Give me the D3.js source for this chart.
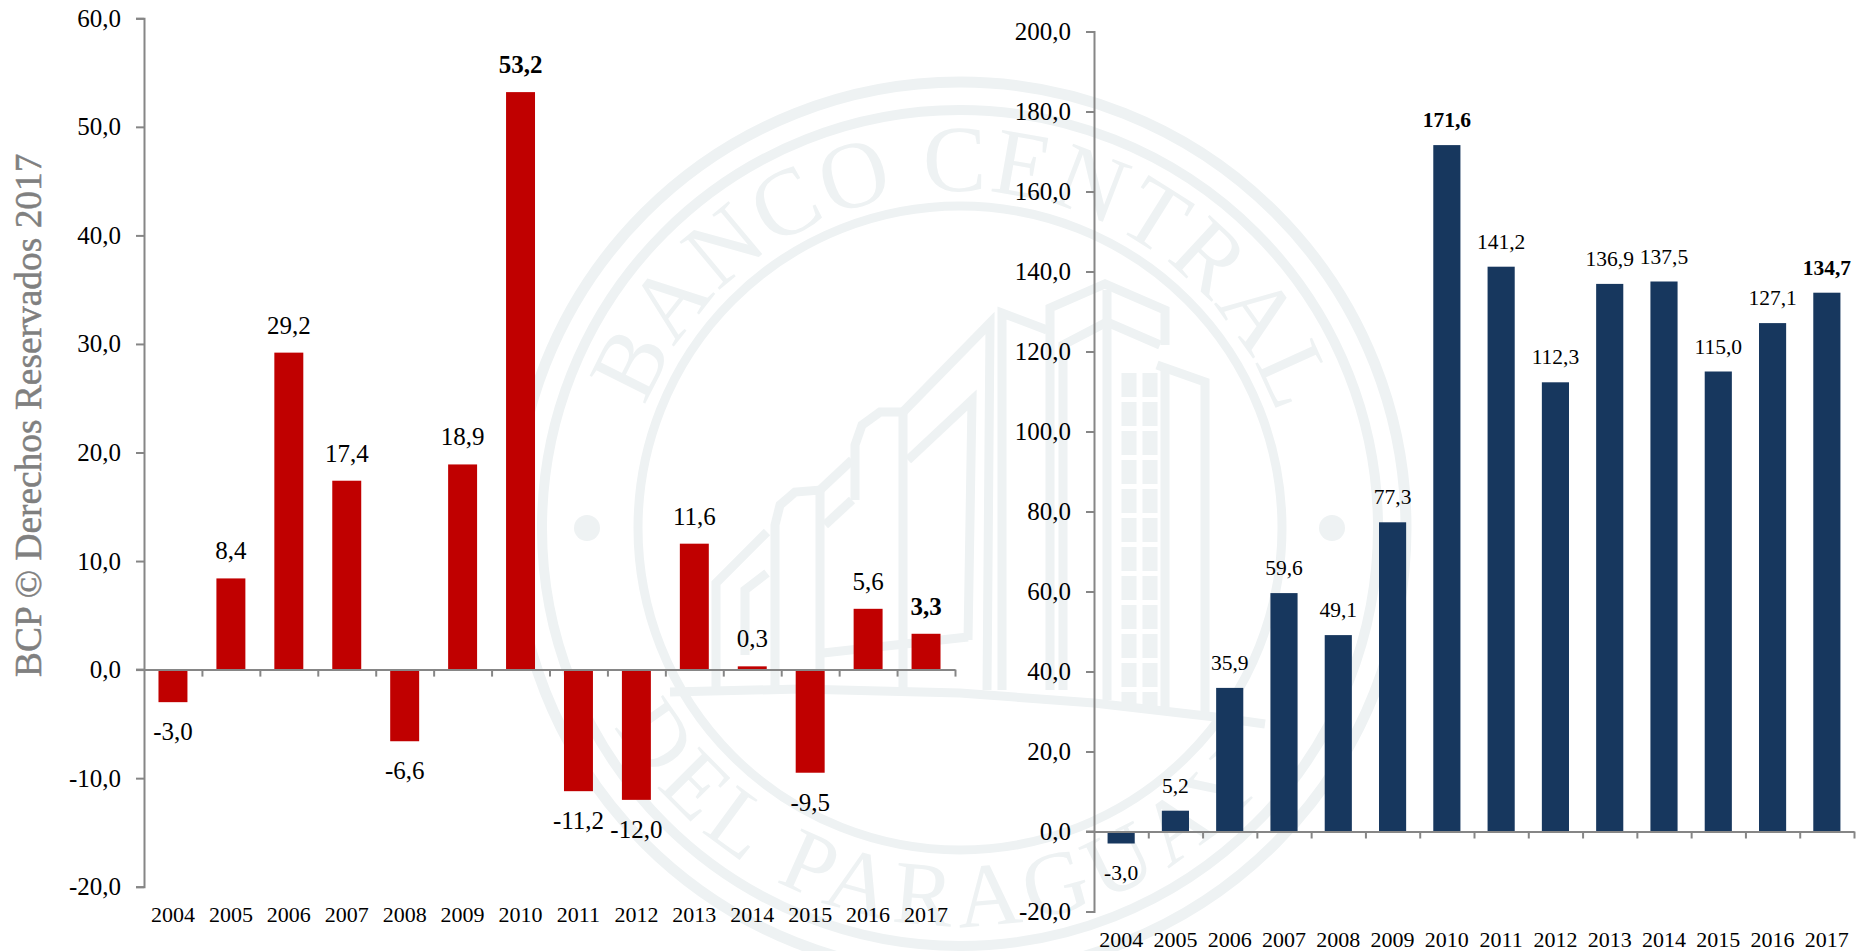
<!DOCTYPE html>
<html>
<head>
<meta charset="utf-8">
<script src="https://cdn.jsdelivr.net/npm/d3@7"></script>
<style>
body{margin:0;background:#fff;}
svg{display:block;}
text{font-family:"Liberation Serif",serif;fill:#000;}
</style>
</head>
<body>
<svg id="chart" width="1866" height="951"></svg>
<script>
var years=["2004","2005","2006","2007","2008","2009","2010","2011","2012","2013","2014","2015","2016","2017"];
var flowValues=[-3.0,8.4,29.2,17.4,-6.6,18.9,53.2,-11.2,-12.0,11.6,0.3,-9.5,5.6,3.3];
var stockValues=[-3.0,5.2,35.9,59.6,49.1,77.3,171.6,141.2,112.3,136.9,137.5,115.0,127.1,134.7];
var flowTicks=[-20,-10,0,10,20,30,40,50,60];
var stockTicks=[-20,0,20,40,60,80,100,120,140,160,180,200];
var boldYears=["2010","2017"];
var sideNote="BCP © Derechos Reservados 2017";
var sealTop="BANCO CENTRAL";
var sealBottom="DEL PARAGUAY";

var width=1866,height=951;
var svg=d3.select("#chart");
var fmt=d3.formatLocale({decimal:",",thousands:".",grouping:[3],currency:["",""],minus:"-"}).format(".1f");

//marca de agua
var sealColor="#eef2f3";
var cx=960,cy=528;
var seal=svg.append("g").attr("fill","none").attr("stroke",sealColor);
[[446,11],[418,10],[322,9]].forEach(function(r){
    seal.append("circle").attr("cx",cx).attr("cy",cy).attr("r",r[0]).attr("stroke-width",r[1]);
});
[587,1332].forEach(function(x){
    seal.append("circle").attr("cx",x).attr("cy",cy).attr("r",13).attr("fill",sealColor).attr("stroke","none");
});

var rad=Math.PI/180;
var topArc=d3.path();
topArc.arc(cx,cy,337,-170*rad,-10*rad+0.03,false);
var bottomArc=d3.path();
bottomArc.arc(cx,cy,398,172*rad,17*rad,true);
var defs=svg.append("defs");
defs.append("path").attr("id","sealTopArc").attr("d",topArc.toString());
defs.append("path").attr("id","sealBottomArc").attr("d",bottomArc.toString());
svg.append("text").attr("font-size",95).attr("letter-spacing",2).style("fill",sealColor)
    .append("textPath").attr("href","#sealTopArc").attr("startOffset","50%").attr("text-anchor","middle").text(sealTop);
svg.append("text").attr("font-size",90).attr("letter-spacing",8).style("fill",sealColor)
    .append("textPath").attr("href","#sealBottomArc").attr("startOffset","50%").attr("text-anchor","middle").text(sealBottom);

// edificios del logo
var sealLines=[
    [[670,692],[800,689],[960,693],[1094,703],[1215,717],[1265,724]],
    [[716,690],[716,583],[767,532]],
    [[745,655],[745,590],[767,573]],
    [[823,653],[968,637]],
    [[775,690],[775,525],[780,505],[795,492],[820,490],[820,690]],
    [[820,490],[852,460]],
    [[825,525],[852,500]],
    [[855,500],[855,445],[862,425],[880,412],[903,412],[903,690]],
    [[903,412],[990,323],[987,690]],
    [[908,460],[972,400],[968,640]],
    [[1002,690],[1002,313],[1047,330]],
    [[1050,690],[1050,308],[1105,284],[1165,310],[1165,345]],
    [[1063,690],[1063,345],[1107,322],[1160,345]],
    [[1107,290],[1107,700]],
    [[1157,365],[1205,382],[1205,715]],
    [[1165,370],[1165,712]]
];
var sealLine=d3.line().curve(d3.curveLinear);
seal.selectAll(".b").data(sealLines).enter().append("path")
    .attr("class","b")
    .attr("d",sealLine)
    .attr("stroke-width",9);
seal.selectAll(".w").data([1129,1150]).enter().append("line")
    .attr("class","w")
    .attr("x1",function(d){return d;}).attr("x2",function(d){return d;})
    .attr("y1",373).attr("y2",707)
    .attr("stroke-width",15)
    .attr("stroke-dasharray","24 5");

function drawPanel(opt){
    var xBand=d3.scaleBand().domain(years).range([opt.x0,opt.x1]).paddingInner(0.5).paddingOuter(0.25);
    var xLine=d3.scaleLinear().domain([0,years.length]).range([opt.x0,opt.x1]);
    var yScale=d3.scaleLinear().domain(opt.domain).range([opt.yBottom,opt.yTop]);

    var g=svg.append("g");
    g.selectAll("rect").data(opt.values).enter().append("rect")
        .attr("x",function(d,i){return xBand(years[i]);})
        .attr("width",xBand.bandwidth())
        .attr("y",function(d){return yScale(Math.max(d,0));})
        .attr("height",function(d){return Math.abs(yScale(d)-yScale(0));})
        .attr("fill",opt.color);

    var yAxis=d3.axisLeft(yScale).tickValues(opt.ticks).tickFormat(fmt).tickSize(8).tickPadding(15);
    var yG=g.append("g").attr("transform","translate("+opt.x0+",0)").call(yAxis);
    yG.selectAll("text").attr("font-size",25);

    var zeroAxis=d3.axisBottom(xLine).tickValues(d3.range(1,years.length+1)).tickFormat("").tickSize(7).tickSizeOuter(0);
    var zG=g.append("g").attr("transform","translate(0,"+yScale(0)+")").call(zeroAxis);
    g.append("line").attr("x1",opt.x0-8).attr("x2",opt.x0).attr("y1",yScale(0)).attr("y2",yScale(0));

    g.selectAll(".domain,.tick line,g>line").attr("stroke","#868686").attr("stroke-width",2);

    g.selectAll(".year").data(years).enter().append("text")
        .attr("class","year")
        .attr("x",function(d){return xBand(d)+xBand.bandwidth()/2;})
        .attr("y",opt.yearY)
        .attr("text-anchor","middle")
        .attr("font-size",22)
        .text(function(d){return d;});

    g.selectAll(".value").data(opt.values).enter().append("text")
        .attr("class","value")
        .attr("x",function(d,i){return xBand(years[i])+xBand.bandwidth()/2;})
        .attr("y",function(d){return d<0?yScale(d)+opt.gapBelow:yScale(d)-opt.gapAbove;})
        .attr("text-anchor","middle")
        .attr("font-size",function(d,i){return opt.labelSize;})
        .attr("font-weight",function(d,i){return boldYears.indexOf(years[i])>=0?"bold":"normal";})
        .text(function(d){return fmt(d);});
}

drawPanel({values:flowValues,ticks:flowTicks,domain:[-20,60],color:"#c00000",
    x0:144,x1:955,yTop:18.3,yBottom:886.7,yearY:922,labelSize:25,gapAbove:19,gapBelow:38});
drawPanel({values:stockValues,ticks:stockTicks,domain:[-20,200],color:"#17375e",
    x0:1094,x1:1854,yTop:31.5,yBottom:911.5,yearY:947,labelSize:21.5,gapAbove:18,gapBelow:36});

svg.append("text")
    .attr("transform","translate(41,677) rotate(-90)")
    .attr("font-size",37.4)
    .style("fill","#808080")
    .style("stroke","#808080")
    .style("stroke-width",0.5)
    .text(sideNote);
</script>
</body>
</html>
